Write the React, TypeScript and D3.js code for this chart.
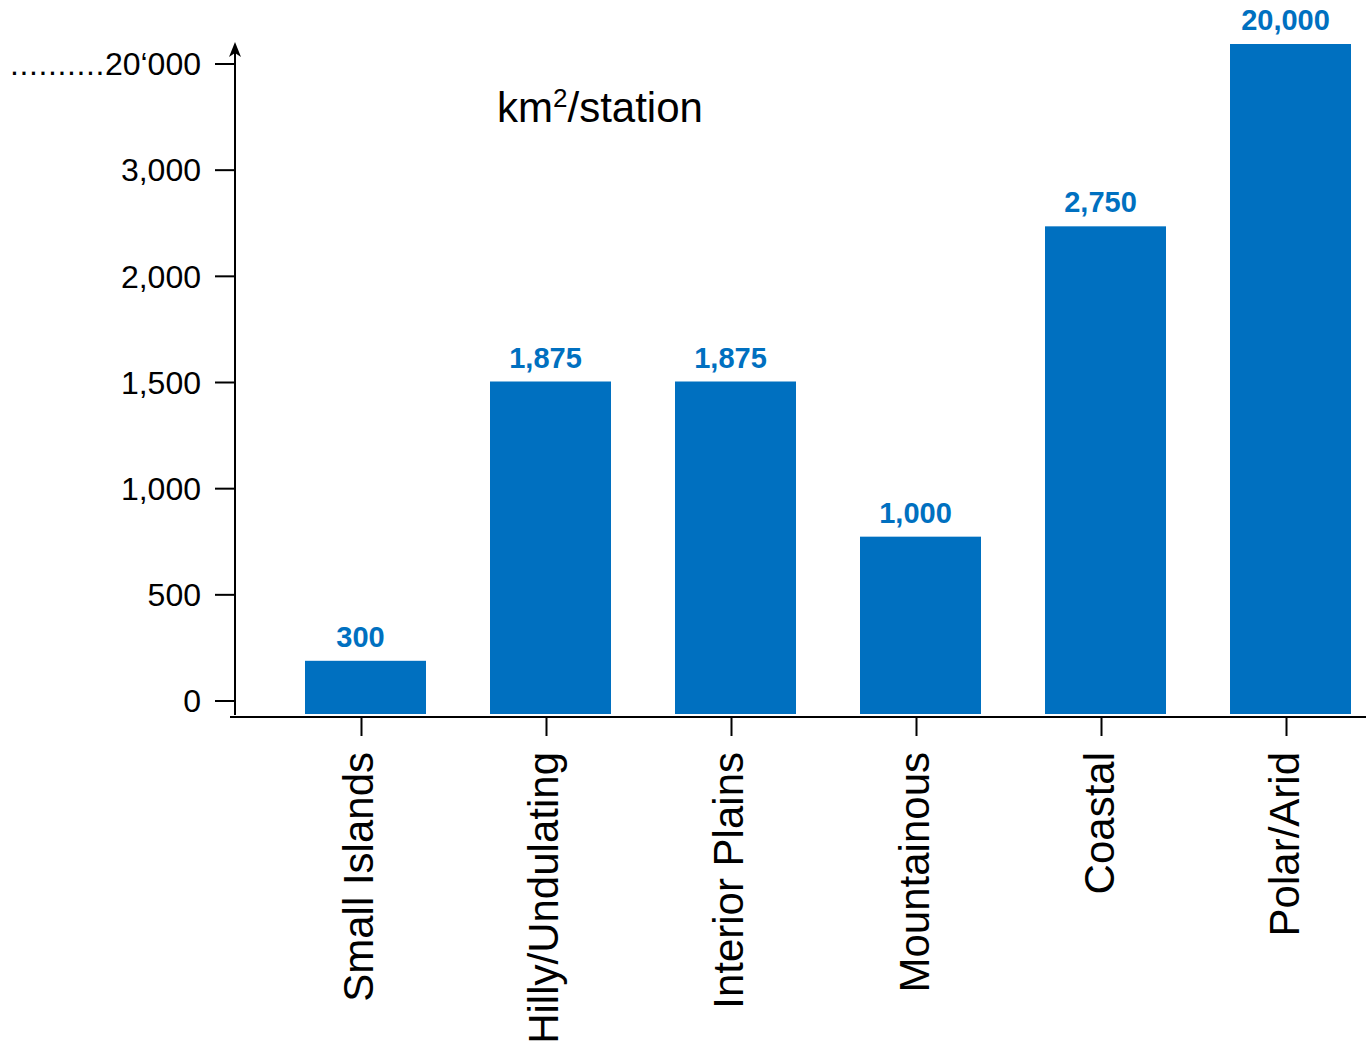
import React from "react";
import * as d3 from "d3";

const categories = ["Small Islands", "Hilly/Undulating", "Interior Plains", "Mountainous", "Coastal", "Polar/Arid"];
const values = [300, 1875, 1875, 1000, 2750, 20000];
const valueLabels = ["300", "1,875", "1,875", "1,000", "2,750", "20,000"];
const yTickLabels = ["0", "500", "1,000", "1,500", "2,000", "3,000", "20‘000"];
const unitTitle = "km";
const unitSup = "2";
const unitRest = "/station";

const W = 1366;
const H = 1046;
const BLUE = "#0070C0";
const FONT = "Liberation Sans, Arial, Helvetica, sans-serif";

export default function App() {
  const axisX = 235;
  const axisY = 717;
  const barBase = 714;

  const x = d3.scaleBand<string>().domain(categories).range([305, 1351]).paddingInner(0.346).paddingOuter(0);
  const yBar = d3.scaleLinear().domain([0, 3000, 20000]).range([barBase, 182, 44]);
  const yTick = d3.scalePoint<string>().domain(yTickLabels).range([701, 64]);
  const bw = x.bandwidth();

  return (
    <svg width={W} height={H} style={{ position: "absolute", left: 0, top: 0, background: "#fff" }} fontFamily={FONT}>
      {categories.map((c, i) => (
        <rect key={c} x={x(c)} y={yBar(values[i])} width={bw} height={barBase - yBar(values[i])} fill={BLUE} />
      ))}
      {categories.map((c, i) => (
        <text key={c + "v"} x={(x(c) as number) + bw / 2 - 5} y={yBar(values[i]) - 14} textAnchor="middle"
          fontSize={29} fontWeight="bold" fill={BLUE}>{valueLabels[i]}</text>
      ))}
      <line x1={axisX} x2={axisX} y1={715} y2={50} stroke="#000" strokeWidth={2} />
      <path d={`M${axisX},42 L${axisX - 6},57 L${axisX},53 L${axisX + 6},57 Z`} fill="#000" />
      {yTickLabels.map((t) => {
        const yy = yTick(t) as number;
        const last = t === "20‘000";
        return (
          <g key={t}>
            <line x1={215} x2={axisX} y1={yy} y2={yy} stroke="#000" strokeWidth={2} />
            <text x={201} y={yy} dy="0.35em" textAnchor="end" fontSize={32} fill="#000">
              {last ? <tspan letterSpacing={0.6}>..........</tspan> : null}
              {t}
            </text>
          </g>
        );
      })}
      <line x1={230} x2={W} y1={axisY} y2={axisY} stroke="#000" strokeWidth={2} />
      {categories.map((c) => {
        const cx = (x(c) as number) + bw / 2 - 4;
        return (
          <g key={c + "t"}>
            <line x1={cx} x2={cx} y1={axisY} y2={736} stroke="#000" strokeWidth={2} />
            <text transform={`translate(${cx + 12},752) rotate(-90)`} textAnchor="end" fontSize={42} fill="#000">{c}</text>
          </g>
        );
      })}
      <text x={497} y={122} fontSize={42} fill="#000">
        {unitTitle}
        <tspan fontSize={26} dy={-15}>{unitSup}</tspan>
        <tspan dy={15}>{unitRest}</tspan>
      </text>
    </svg>
  );
}
